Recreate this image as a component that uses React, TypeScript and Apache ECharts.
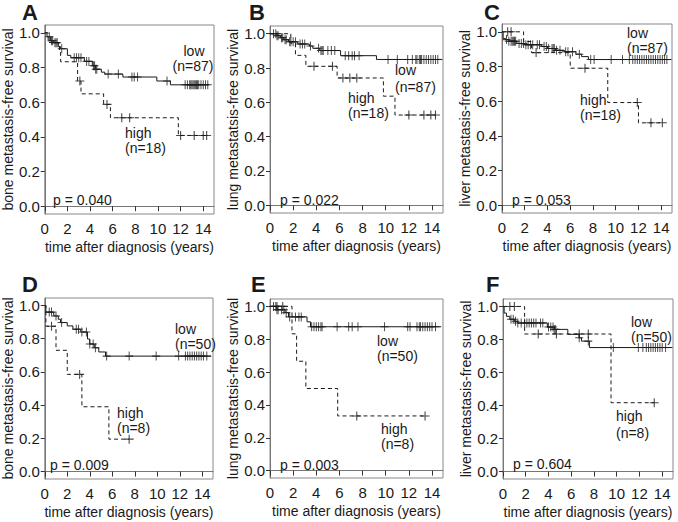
import React, { useEffect, useRef } from "react";
import * as echarts from "echarts";

type Step = [number, number];

// ---------- Panel A: bone, cohort 1 ----------
const aLowSteps: Step[] = [[0, 1], [0.2, 0.977], [0.5, 0.954], [0.8, 0.943], [1.2, 0.92], [1.4, 0.908], [2.0, 0.87], [2.3, 0.856], [3.5, 0.835], [4.2, 0.81], [4.5, 0.79], [5.0, 0.773], [5.3, 0.762], [6.9, 0.745], [9.9, 0.722], [11.1, 0.70]];
const aLowEnd = 14.5;
const aLowCensor = [0.4, 0.6, 0.7, 0.9, 1.0, 1.1, 1.5, 2.6, 2.8, 3.0, 3.2, 3.7, 3.9, 4.3, 4.4, 4.5, 4.6, 5.6, 6.5, 7.7, 7.9, 8.2, 10.8, 12.4, 12.6, 12.8, 12.9, 13.0, 13.1, 13.2, 13.3, 13.4, 13.5, 13.6, 13.8, 14.0, 14.2, 14.4];
const aHighSteps: Step[] = [[0, 1], [0.3, 0.944], [1.3, 0.889], [1.4, 0.833], [2.9, 0.722], [3.2, 0.648], [5.2, 0.587], [5.8, 0.51], [11.8, 0.408]];
const aHighEnd = 14.3;
const aHighCensor = [3.1, 5.5, 6.8, 7.5, 12.0, 13.2, 14.0, 14.3];

// ---------- Panel B: lung, cohort 1 ----------
const bLowSteps: Step[] = [[0, 1], [0.6, 0.988], [0.9, 0.977], [1.2, 0.965], [1.6, 0.953], [2.4, 0.94], [3.4, 0.928], [3.7, 0.915], [4.3, 0.902], [6.1, 0.872], [9.2, 0.85]];
const bLowEnd = 14.9;
const bLowCensor = [0.3, 0.5, 0.6, 0.7, 1.0, 1.1, 1.3, 1.4, 1.7, 1.8, 2.0, 2.2, 2.6, 2.8, 3.0, 3.5, 4.2, 4.4, 4.5, 4.6, 5.0, 5.3, 5.6, 6.5, 6.8, 7.1, 7.3, 7.7, 10.2, 11.0, 11.9, 12.3, 12.6, 12.7, 12.9, 13.0, 13.1, 13.3, 13.5, 13.7, 13.9, 14.1, 14.3, 14.5];
const bHighSteps: Step[] = [[0, 1], [1.8, 0.944], [2.2, 0.874], [3.1, 0.81], [5.8, 0.742], [9.8, 0.636], [10.8, 0.526]];
const bHighEnd = 14.3;
const bHighCensor = [3.8, 5.4, 6.3, 6.9, 7.5, 12.0, 13.3, 13.9, 14.3];

// ---------- Panel C: liver, cohort 1 ----------
const cLowSteps: Step[] = [[0, 1], [0.1, 0.962], [0.3, 0.955], [0.6, 0.946], [1.3, 0.933], [2.0, 0.925], [3.5, 0.915], [4.0, 0.904], [4.7, 0.893], [5.5, 0.885], [6.5, 0.871], [7.0, 0.857], [7.6, 0.84]];
const cLowEnd = 14.9;
const cLowCensor = [0.4, 0.6, 0.8, 0.9, 1.0, 1.1, 1.2, 1.5, 1.7, 1.9, 2.1, 2.3, 2.5, 2.7, 3.1, 3.3, 3.7, 3.9, 4.1, 4.4, 4.5, 4.6, 4.8, 5.1, 5.6, 5.8, 6.2, 6.8, 7.8, 8.1, 9.6, 10.6, 11.2, 11.5, 11.7, 11.9, 12.1, 12.3, 12.5, 12.7, 12.9, 13.1, 13.3, 13.5, 13.7, 13.9, 14.1, 14.3, 14.5];
const cHighSteps: Step[] = [[0, 1], [1.9, 0.944], [2.6, 0.88], [6.0, 0.79], [9.3, 0.592], [12.0, 0.475]];
const cHighEnd = 14.1;
const cHighCensor = [0.5, 0.8, 3.0, 7.3, 11.9, 13.1, 14.1];

// ---------- Panel D: bone, cohort 2 ----------
const dLowSteps: Step[] = [[0, 1], [0.1, 0.96], [0.8, 0.937], [1.2, 0.917], [1.4, 0.897], [2.0, 0.877], [2.5, 0.857], [3.2, 0.84], [3.8, 0.798], [4.0, 0.768], [4.4, 0.745], [4.8, 0.72], [5.4, 0.695]];
const dLowEnd = 14.8;
const dLowCensor = [0.4, 0.6, 1.0, 1.5, 2.8, 3.0, 3.3, 3.7, 4.0, 4.3, 4.5, 5.5, 7.5, 9.9, 11.9, 12.5, 12.7, 12.9, 13.1, 13.3, 13.5, 13.7, 13.9, 14.1, 14.4];
const dHighSteps: Step[] = [[0, 1], [0.1, 0.875], [1.0, 0.73], [2.0, 0.585], [3.3, 0.39], [5.7, 0.195]];
const dHighEnd = 7.5;
const dHighCensor = [0.6, 3.1, 7.5];

// ---------- Panel E: lung, cohort 2 ----------
const eLowSteps: Step[] = [[0, 1], [0.6, 0.98], [1.3, 0.962], [1.6, 0.936], [3.2, 0.906], [3.5, 0.876]];
const eLowEnd = 14.8;
const eLowCensor = [0.3, 0.5, 0.6, 0.7, 1.0, 1.2, 1.4, 1.7, 2.2, 2.5, 2.7, 3.6, 3.8, 4.0, 4.2, 4.4, 4.5, 5.8, 6.8, 7.1, 7.6, 9.9, 11.9, 12.1, 12.7, 12.9, 13.0, 13.2, 13.4, 13.6, 13.8, 14.0, 14.3];
const eHighSteps: Step[] = [[0, 1], [1.9, 0.833], [2.3, 0.666], [3.1, 0.5], [5.85, 0.333]];
const eHighEnd = 13.4;
const eHighCensor = [0.6, 1.1, 7.5, 13.4];

// ---------- Panel F: liver, cohort 2 ----------
const fLowSteps: Step[] = [[0, 1], [0.1, 0.96], [0.3, 0.94], [0.6, 0.922], [1.0, 0.91], [1.3, 0.9], [3.9, 0.875], [4.5, 0.861], [5.7, 0.831], [6.7, 0.81], [6.9, 0.79], [7.6, 0.751]];
const fLowEnd = 14.9;
const fLowCensor = [0.7, 0.9, 1.1, 1.3, 1.6, 1.9, 2.1, 2.3, 2.5, 2.7, 2.9, 3.3, 3.5, 4.0, 4.2, 4.4, 4.5, 4.6, 6.7, 7.5, 9.7, 11.9, 12.3, 12.6, 12.8, 13.0, 13.2, 13.4, 13.6, 13.8, 14.0, 14.3];
const fHighSteps: Step[] = [[0, 1], [1.9, 0.833], [9.5, 0.417]];
const fHighEnd = 13.3;
const fHighCensor = [0.6, 1.0, 3.1, 4.7, 6.7, 7.5, 13.3];

// ---------- texts ----------
const panelLetters = ["A", "B", "C", "D", "E", "F"];
const yTitles = [
  "bone metastasis-free survival",
  "lung metastatsis-free survival",
  "liver metastasis-free survival",
  "bone metastasis-free survival",
  "lung metastatsis-free survival",
  "liver metastasis-free survival",
];
const pValues = ["p = 0.040", "p = 0.022", "p = 0.053", "p = 0.009", "p = 0.003", "p = 0.604"];
const lowCounts = ["(n=87)", "(n=87)", "(n=87)", "(n=50)", "(n=50)", "(n=50)"];
const highCounts = ["(n=18)", "(n=18)", "(n=18)", "(n=8)", "(n=8)", "(n=8)"];
const xTitle = "time after diagnosis (years)";
const xTicks = [0, 2, 4, 6, 8, 10, 12, 14];
const yTicks = [0, 0.2, 0.4, 0.6, 0.8, 1.0];

const panelsData = [
  { low: aLowSteps, lowEnd: aLowEnd, lowC: aLowCensor, high: aHighSteps, highEnd: aHighEnd, highC: aHighCensor },
  { low: bLowSteps, lowEnd: bLowEnd, lowC: bLowCensor, high: bHighSteps, highEnd: bHighEnd, highC: bHighCensor },
  { low: cLowSteps, lowEnd: cLowEnd, lowC: cLowCensor, high: cHighSteps, highEnd: cHighEnd, highC: cHighCensor },
  { low: dLowSteps, lowEnd: dLowEnd, lowC: dLowCensor, high: dHighSteps, highEnd: dHighEnd, highC: dHighCensor },
  { low: eLowSteps, lowEnd: eLowEnd, lowC: eLowCensor, high: eHighSteps, highEnd: eHighEnd, highC: eHighCensor },
  { low: fLowSteps, lowEnd: fLowEnd, lowC: fLowCensor, high: fHighSteps, highEnd: fHighEnd, highC: fHighCensor },
];

// ---------- layout (pixels) ----------
const grids = [
  { left: 44, top: 25, width: 170, height: 189 },
  { left: 270, top: 26, width: 173, height: 187 },
  { left: 502, top: 24, width: 170, height: 189 },
  { left: 43, top: 298, width: 170, height: 181 },
  { left: 270, top: 299, width: 173, height: 179 },
  { left: 503, top: 299, width: 170, height: 180 },
];
const letterPos = [[22, 1], [249, 1], [484, 1], [22, 273], [251, 273], [486, 273]];
const lowPos = [[194, 51, "center"], [395, 70, "left"], [627, 33, "left"], [175, 329, "left"], [377, 341, "left"], [631, 322, "left"]];
const lowNPos = [[193, 66, "center"], [395, 87, "left"], [627, 48, "left"], [175, 344, "left"], [377, 356, "left"], [631, 337, "left"]];
const highPos = [[125, 133], [348, 98], [580, 100], [117, 413], [381, 429], [616, 416]];
const highNPos = [[125, 148], [348, 113], [580, 115], [117, 428], [381, 444], [616, 433]];
const pPos = [[53, 200], [280, 200], [512, 200], [50, 465], [280, 465], [513, 464]];

const FONT = "'Liberation Sans', Arial, Helvetica, sans-serif";
const INK = "#1a1a1a";
const CROSS = "path://M4.4,0H5.6V4.4H10V5.6H5.6V10H4.4V5.6H0V4.4H4.4Z";

function survivalAt(steps: Step[], t: number): number {
  let s = steps[0][1];
  for (const [ti, si] of steps) {
    if (ti <= t) s = si;
  }
  return s;
}

function curve(steps: Step[], end: number): Step[] {
  const last = steps[steps.length - 1];
  return [...steps, [end, last[1]]];
}

export default function App() {
  const ref = useRef<HTMLDivElement>(null);
  useEffect(() => {
    if (!ref.current) return;
    const chart = echarts.init(ref.current, undefined, { renderer: "svg" });
    const xAxis: any[] = [];
    const yAxis: any[] = [];
    const series: any[] = [];
    const graphic: any[] = [];

    grids.forEach((g, i) => {
      xAxis.push({
        type: "value",
        gridIndex: i,
        min: 0,
        max: 14.95,
        name: xTitle,
        nameLocation: "middle",
        nameGap: 26,
        nameTextStyle: { fontSize: 14, color: INK, fontFamily: FONT },
        axisLine: { show: true, lineStyle: { color: "#777", width: 1 } },
        axisTick: { show: true, length: 5, lineStyle: { color: "#333" }, customValues: xTicks },
        axisLabel: { fontSize: 15, color: INK, fontFamily: FONT, margin: 7, customValues: xTicks },
        splitLine: { show: false },
      });
      yAxis.push({
        type: "value",
        gridIndex: i,
        min: -0.045,
        max: 1.045,
        name: yTitles[i],
        nameLocation: "middle",
        nameGap: 25,
        nameTextStyle: { fontSize: 14, color: INK, fontFamily: FONT },
        axisLine: { show: true, lineStyle: { color: "#777", width: 1 } },
        axisTick: { show: true, length: 4, lineStyle: { color: "#333" }, customValues: yTicks },
        axisLabel: {
          fontSize: 15,
          color: INK,
          fontFamily: FONT,
          margin: 5,
          customValues: yTicks,
          formatter: (v: number) => v.toFixed(1),
        },
        splitLine: { show: false },
      });
      const d = panelsData[i];
      series.push({
        type: "line",
        xAxisIndex: i,
        yAxisIndex: i,
        step: "end",
        symbol: "none",
        data: curve(d.low, d.lowEnd),
        lineStyle: { color: INK, width: 1 },
        z: 3,
      });
      series.push({
        type: "line",
        xAxisIndex: i,
        yAxisIndex: i,
        step: "end",
        symbol: "none",
        data: curve(d.high, d.highEnd),
        lineStyle: { color: INK, width: 1, type: [4, 3] },
        z: 3,
      });
      series.push({
        type: "scatter",
        xAxisIndex: i,
        yAxisIndex: i,
        symbol: CROSS,
        symbolSize: [8, 9],
        itemStyle: { color: INK },
        data: d.lowC.map((t) => [t, survivalAt(d.low, t)]),
        z: 4,
      });
      series.push({
        type: "scatter",
        xAxisIndex: i,
        yAxisIndex: i,
        symbol: CROSS,
        symbolSize: [9, 9],
        itemStyle: { color: INK },
        data: d.highC.map((t) => [t, survivalAt(d.high, t)]),
        z: 4,
      });

      const txt = (text: string, x: number, y: number, align: string, size = 14, weight = "normal", vAlign = "middle") => ({
        type: "text",
        x,
        y,
        z: 10,
        style: { text, fill: INK, fontSize: size, fontFamily: FONT, fontWeight: weight, align, verticalAlign: vAlign },
      });
      graphic.push(txt(panelLetters[i], letterPos[i][0], letterPos[i][1], "left", 22, "bold", "top"));
      graphic.push(txt("low", lowPos[i][0] as number, lowPos[i][1] as number, lowPos[i][2] as string));
      graphic.push(txt(lowCounts[i], lowNPos[i][0] as number, lowNPos[i][1] as number, lowNPos[i][2] as string));
      graphic.push(txt("high", highPos[i][0], highPos[i][1], "left"));
      graphic.push(txt(highCounts[i], highNPos[i][0], highNPos[i][1], "left"));
      graphic.push(txt(pValues[i], pPos[i][0], pPos[i][1], "left"));
    });

    chart.setOption({
      animation: false,
      backgroundColor: "#ffffff",
      grid: grids.map((g) => ({ ...g, show: true, borderColor: "#888", borderWidth: 1, backgroundColor: "transparent" })),
      xAxis,
      yAxis,
      series,
      graphic,
    });
    return () => chart.dispose();
  }, []);
  return <div ref={ref} style={{ position: "fixed", left: 0, top: 0, width: 678, height: 522 }} />;
}
